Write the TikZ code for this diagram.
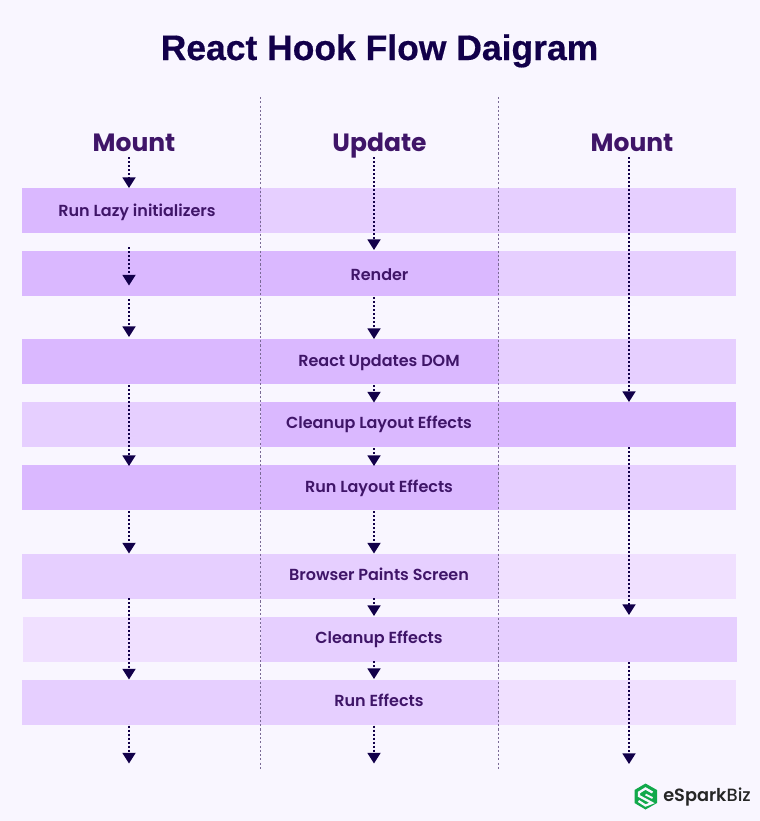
\documentclass[tikz,border=0pt]{standalone}
\usepackage{fontspec}
\setmainfont{Poppins}
\newfontfamily\popsemi{Poppins SemiBold}
\newfontfamily\popmed{Poppins Medium}
\newfontfamily\titlefont[FakeBold=0.5]{Liberation Sans Bold}
\usetikzlibrary{arrows.meta}
\definecolor{bgc}{HTML}{F9F6FF}
\definecolor{dk}{HTML}{DAB8FF}
\definecolor{md}{HTML}{E6CFFF}
\definecolor{lt}{HTML}{F0E0FF}
\definecolor{navy}{HTML}{12004A}
\definecolor{plum}{HTML}{3F1568}
\definecolor{divc}{HTML}{7A6A95}
\definecolor{logog}{HTML}{12A94B}
\tikzset{
  x=0.75pt,y=-0.75pt,
  cell/.style={rectangle,draw=none,inner sep=0pt,outer sep=0pt,minimum height=33.75pt,anchor=north west},
  leftc/.style={cell,minimum width=178.875pt},
  midc/.style={cell,minimum width=178.5pt},
  rightc/.style={cell,minimum width=178.125pt},
  lab/.style={text=plum,font=\popsemi\fontsize{12pt}{14pt}\selectfont,inner sep=0pt,anchor=base},
  head/.style={text=plum,font=\bfseries\fontsize{18.75pt}{22pt}\selectfont,inner sep=0pt,anchor=base},
  flow/.style={draw=navy,line width=1.4pt,dash pattern=on 1.5pt off 1.5pt,-{Triangle[width=9.75pt,length=8pt,color=navy]}},
  divider/.style={draw=divc,line width=0.6pt,dash pattern=on 1.6pt off 1.6pt},
}
\begin{document}
\begin{tikzpicture}
\useasboundingbox[fill=bgc] (0,0) rectangle (760,821);
\node[text=navy,font=\titlefont\fontsize{26.6pt}{30pt}\selectfont,inner sep=0pt,anchor=base] (title) at (379.5,60) {React Hook Flow Daigram};
% rows
\node[leftc,fill=dk] (a1) at (22,188) {}; \node[midc,fill=md] (b1) at (260.5,188) {}; \node[rightc,fill=md] (c1) at (498.5,188) {};
\node[leftc,fill=dk] (a2) at (22,251) {}; \node[midc,fill=dk] (b2) at (260.5,251) {}; \node[rightc,fill=md] (c2) at (498.5,251) {};
\node[leftc,fill=dk] (a3) at (22,339) {}; \node[midc,fill=dk] (b3) at (260.5,339) {}; \node[rightc,fill=md] (c3) at (498.5,339) {};
\node[leftc,fill=md] (a4) at (22,402) {}; \node[midc,fill=dk] (b4) at (260.5,402) {}; \node[rightc,fill=dk] (c4) at (498.5,402) {};
\node[leftc,fill=dk] (a5) at (22,465) {}; \node[midc,fill=dk] (b5) at (260.5,465) {}; \node[rightc,fill=md] (c5) at (498.5,465) {};
\node[leftc,fill=md] (a6) at (22,554) {}; \node[midc,fill=md] (b6) at (260.5,554) {}; \node[rightc,fill=lt] (c6) at (498.5,554) {};
\node[leftc,fill=lt,minimum width=178.125pt] (a7) at (23,617) {}; \node[midc,fill=md] (b7) at (260.5,617) {}; \node[rightc,fill=md,minimum width=178.875pt] (c7) at (498.5,617) {};
\node[leftc,fill=md] (a8) at (22,680) {}; \node[midc,fill=md] (b8) at (260.5,680) {}; \node[rightc,fill=lt] (c8) at (498.5,680) {};
% dividers
\coordinate (d1t) at (260.5,97); \coordinate (d1b) at (260.5,769);
\coordinate (d2t) at (498.5,97); \coordinate (d2b) at (498.5,769);
\draw[divider] (d1t) -- (d1b);
\draw[divider] (d2t) -- (d2b);
% headings
\node[head] (hm) at (134,151) {Mount};
\node[head] (hu) at (379.5,151) {Update};
\node[head] (hn) at (632,151) {Mount};
% labels
\node[lab] (l1) at (137,216) {Run Lazy initializers};
\node[lab] (l2) at (379.5,280) {Render};
\node[lab] (l3) at (379,366) {React Updates DOM};
\node[lab] (l4) at (379,428.5) {Cleanup Layout Effects};
\node[lab] (l5) at (379,492) {Run Layout Effects};
\node[lab] (l6) at (379,580.5) {Browser Paints Screen};
\node[lab] (l7) at (379,643) {Cleanup Effects};
\node[lab] (l8) at (379,706) {Run Effects};
% connectors, column 1
\foreach \n/\s/\e in {p1/157/188,p2/247/285.5,p3/299/337,p4/385/466,p5/511/553.5,p6/598/679.5,p7/725.5/763.5}{
  \coordinate (\n s) at (129,\s); \coordinate (\n e) at (129,\e);
  \draw[flow] (\n s) -- (\n e);
}
% column 2
\foreach \n/\s/\e in {q1/157/250,q2/297/339,q3/385/402.5,q4/448/466,q5/511/553.5,q6/598/616,q7/661/679,q8/725.5/763.5}{
  \coordinate (\n s) at (374,\s); \coordinate (\n e) at (374,\e);
  \draw[flow] (\n s) -- (\n e);
}
% column 3
\foreach \n/\s/\e in {r1/157/402,r2/447/615,r3/662/764}{
  \coordinate (\n s) at (629,\s); \coordinate (\n e) at (629,\e);
  \draw[flow] (\n s) -- (\n e);
}
% logo
\fill[logog] (645.5,783.5) -- (657,790) -- (657,803) -- (645.5,809.5) -- (634.5,803) -- (634.5,790) -- cycle;
\draw[bgc,line width=1.7pt,line join=miter] (652.5,792.5) -- (645.5,788.5) -- (639,792.5) -- (639,796) -- (652,803) -- (645.5,805.5) -- (638.5,801);
\draw[bgc,line width=1.4pt] (645.5,794.5) -- (652.5,798);
\node[text=black!85,font=\popsemi\fontsize{13.3pt}{16pt}\selectfont,inner sep=0pt,anchor=base west] (logo) at (663,801.5) {eSpark\popmed Biz};
\end{tikzpicture}
\end{document}
